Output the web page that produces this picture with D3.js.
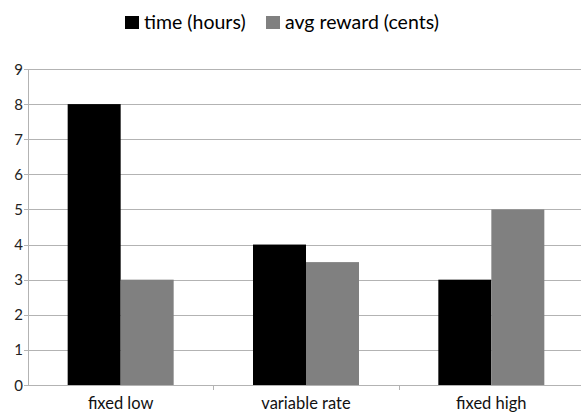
<!DOCTYPE html>
<html>
<head>
<meta charset="utf-8">
<script src="https://cdn.jsdelivr.net/npm/d3@7"></script>
<style>
  body { margin: 0; background: #fff; }
  svg { display: block; font-family: Lato, "Open Sans", sans-serif; }
</style>
</head>
<body>
<svg width="581" height="412"></svg>
<script>
var categories = ["fixed low", "variable rate", "fixed high"];
var seriesNames = ["time (hours)", "avg reward (cents)"];
var timeHours = [8, 4, 3];
var avgReward = [3, 3.5, 5];
var yTicks = [0, 1, 2, 3, 4, 5, 6, 7, 8, 9];
var colors = ["#000000", "#808080"];

var svg = d3.select("svg"),
    margin = { top: 69, left: 28 },
    plotBottom = 385,
    plotRight = 584;

var data = categories.map(function(c, i) {
    return { cat: c, values: [timeHours[i], avgReward[i]] };
});

var x = d3.scaleBand().domain(categories).range([margin.left, plotRight]);
var y = d3.scaleLinear().domain([0, 9]).range([plotBottom, margin.top]);
var bw = 53;
var x1 = d3.scaleBand().domain([0, 1]).range([0, bw * 2]);

// grid
svg.append("g").selectAll("line")
    .data(yTicks)
    .enter().append("line")
    .attr("x1", margin.left - 4)
    .attr("x2", 581)
    .attr("y1", function(d) { return Math.round(y(d)) + 0.5; })
    .attr("y2", function(d) { return Math.round(y(d)) + 0.5; })
    .attr("stroke", "#b3b3b3");

// y labels
svg.append("g").selectAll("text")
    .data(yTicks)
    .enter().append("text")
    .attr("x", 23)
    .attr("y", function(d) { return y(d) + 5.5; })
    .attr("text-anchor", "end")
    .attr("font-size", 15)
    .attr("fill", "#222")
    .text(function(d) { return d; });

// y axis line
svg.append("line")
    .attr("x1", margin.left + 0.5).attr("x2", margin.left + 0.5)
    .attr("y1", y(9)).attr("y2", plotBottom)
    .attr("stroke", "#b3b3b3");

// x ticks at band boundaries
svg.append("g").selectAll("line")
    .data(categories.slice(1))
    .enter().append("line")
    .attr("x1", function(d) { return Math.round(x(d)) + 0.5; })
    .attr("x2", function(d) { return Math.round(x(d)) + 0.5; })
    .attr("y1", plotBottom)
    .attr("y2", plotBottom + 5)
    .attr("stroke", "#b3b3b3");

// bars
var group = svg.append("g").selectAll("g")
    .data(data)
    .enter().append("g")
    .attr("transform", function(d) {
        return "translate(" + (x(d.cat) + (x.bandwidth() - bw * 2) / 2) + ",0)";
    });

group.selectAll("rect")
    .data(function(d) { return d.values; })
    .enter().append("rect")
    .attr("x", function(d, i) { return x1(i); })
    .attr("width", x1.bandwidth())
    .attr("y", function(d) { return y(d); })
    .attr("height", function(d) { return plotBottom - y(d); })
    .attr("fill", function(d, i) { return colors[i]; });

// x labels
svg.append("g").selectAll("text")
    .data(categories)
    .enter().append("text")
    .attr("x", function(d) { return x(d) + x.bandwidth() / 2; })
    .attr("y", 408.5)
    .attr("text-anchor", "middle")
    .attr("font-size", 16.5)
    .attr("fill", "#111")
    .text(function(d) { return d; });

// legend
var legendX = [125, 266];
var legend = svg.append("g").selectAll("g")
    .data(seriesNames)
    .enter().append("g");

legend.append("rect")
    .attr("x", function(d, i) { return legendX[i]; })
    .attr("y", 16)
    .attr("width", 14)
    .attr("height", 13)
    .attr("fill", function(d, i) { return colors[i]; });

legend.append("text")
    .attr("x", function(d, i) { return legendX[i] + 19; })
    .attr("y", 29)
    .attr("font-size", 19.5)
    .attr("fill", "#000")
    .text(function(d) { return d; });
</script>
</body>
</html>
